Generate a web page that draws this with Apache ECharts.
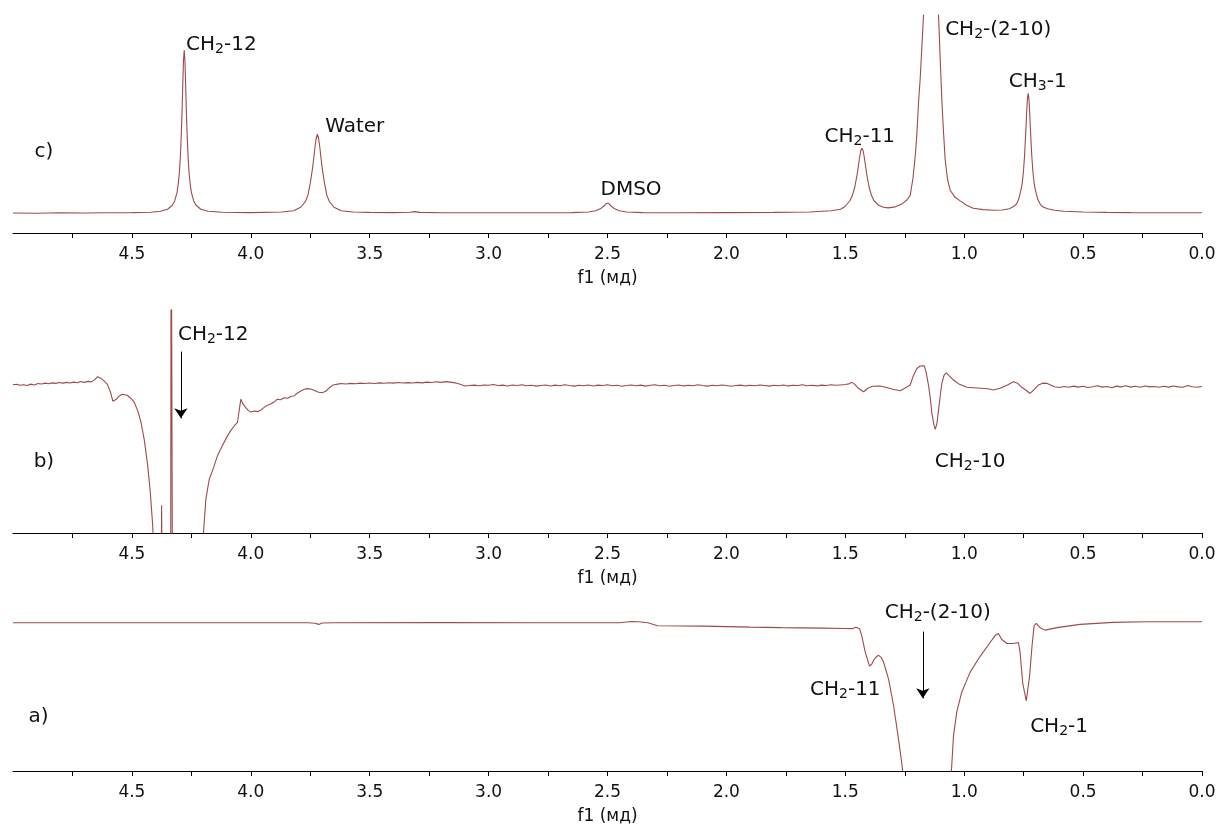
<!DOCTYPE html>
<html>
<head>
<meta charset="utf-8">
<script src="https://cdn.jsdelivr.net/npm/echarts@6.0.0/dist/echarts.min.js"></script>
<style>
html,body{margin:0;padding:0;background:#fff;}
#chart{width:1216px;height:827px;}
</style>
</head>
<body>
<div id="chart"></div>
<script>
// ---- tick values (ppm) ----
const majorTicks = [0, 0.5, 1.0, 1.5, 2.0, 2.5, 3.0, 3.5, 4.0, 4.5];
const allTicks = [0, 0.25, 0.5, 0.75, 1.0, 1.25, 1.5, 1.75, 2.0, 2.25, 2.5, 2.75, 3.0, 3.25, 3.5, 3.75, 4.0, 4.25, 4.5, 4.75];
const axisName = "f1 (мд)";

// ---- spectrum c) : [ppm, intensity] ----
const spectrumC = [
[5.000,0.001],[4.900,0.000],[4.800,0.002],[4.700,0.001],[4.600,0.002],[4.500,0.003],[4.420,0.005],[4.380,0.010],[4.350,0.020],[4.330,0.040],
[4.320,0.062],[4.310,0.105],[4.305,0.148],[4.300,0.210],[4.296,0.290],[4.292,0.405],[4.289,0.520],[4.286,0.650],[4.283,0.770],[4.280,0.822],
[4.277,0.770],[4.274,0.650],[4.271,0.520],[4.268,0.405],[4.264,0.290],[4.260,0.210],[4.255,0.148],[4.250,0.105],[4.240,0.062],[4.230,0.040],
[4.210,0.020],[4.180,0.010],[4.120,0.005],[4.000,0.003],[3.870,0.006],[3.820,0.012],[3.790,0.030],[3.770,0.060],[3.760,0.090],[3.750,0.150],
[3.740,0.230],[3.735,0.280],[3.730,0.335],[3.725,0.378],[3.720,0.399],[3.715,0.378],[3.710,0.335],[3.705,0.280],[3.700,0.230],[3.690,0.150],
[3.680,0.090],[3.670,0.060],[3.650,0.030],[3.620,0.012],[3.570,0.006],[3.500,0.004],[3.400,0.003],[3.330,0.005],[3.310,0.008],[3.290,0.004],
[3.200,0.002],[3.000,0.002],[2.800,0.002],[2.650,0.003],[2.580,0.006],[2.550,0.012],[2.530,0.022],[2.515,0.036],[2.505,0.050],[2.500,0.055],
[2.495,0.050],[2.485,0.036],[2.470,0.022],[2.450,0.012],[2.420,0.006],[2.350,0.003],[2.200,0.002],[2.000,0.003],[1.800,0.004],[1.650,0.006],
[1.560,0.012],[1.520,0.020],[1.500,0.035],[1.480,0.064],[1.470,0.090],[1.460,0.132],[1.450,0.197],[1.445,0.238],[1.440,0.281],[1.435,0.315],
[1.430,0.328],[1.425,0.315],[1.420,0.281],[1.415,0.238],[1.410,0.197],[1.400,0.132],[1.390,0.090],[1.380,0.064],[1.360,0.040],[1.340,0.030],
[1.320,0.027],[1.290,0.032],[1.260,0.048],[1.240,0.068],[1.227,0.090],[1.215,0.180],[1.205,0.300],[1.199,0.400],[1.192,0.560],[1.185,0.680],
[1.178,0.840],[1.171,1.000],[1.160,1.300],[1.150,1.600],[1.140,1.800],[1.130,1.620],[1.120,1.320],[1.108,1.000],[1.101,0.780],[1.094,0.570],
[1.087,0.410],[1.080,0.270],[1.070,0.170],[1.059,0.116],[1.040,0.082],[1.017,0.062],[0.990,0.040],[0.962,0.025],[0.920,0.018],[0.880,0.015],
[0.840,0.016],[0.810,0.022],[0.790,0.035],[0.780,0.047],[0.771,0.070],[0.761,0.119],[0.756,0.152],[0.751,0.208],[0.746,0.294],[0.741,0.410],
[0.737,0.517],[0.734,0.580],[0.731,0.605],[0.728,0.580],[0.725,0.517],[0.721,0.410],[0.716,0.294],[0.711,0.208],[0.706,0.152],[0.701,0.119],
[0.691,0.070],[0.681,0.047],[0.670,0.032],[0.650,0.022],[0.620,0.015],[0.580,0.010],[0.500,0.006],[0.400,0.004],[0.300,0.003],[0.150,0.002],
[0.000,0.002]
];

// ---- spectrum b) : [ppm, intensity] ----
const spectrumB = [
[5.000,-0.005],[4.985,0.000],[4.970,-0.010],[4.955,-0.004],[4.940,-0.012],[4.925,0.002],[4.910,-0.006],[4.895,0.008],[4.880,0.004],[4.865,0.012],
[4.850,0.006],[4.835,0.015],[4.820,0.010],[4.805,0.018],[4.790,0.012],[4.775,0.020],[4.760,0.014],[4.745,0.022],[4.730,0.016],[4.715,0.028],
[4.700,0.020],[4.685,0.030],[4.670,0.025],[4.655,0.050],[4.644,0.077],[4.630,0.060],[4.615,0.030],[4.603,0.000],[4.590,-0.080],[4.580,-0.170],
[4.574,-0.190],[4.565,-0.150],[4.553,-0.117],[4.540,-0.100],[4.532,-0.094],[4.520,-0.110],[4.505,-0.140],[4.490,-0.180],[4.475,-0.270],[4.462,-0.380],
[4.448,-0.560],[4.434,-0.810],[4.423,-1.080],[4.413,-1.410],[4.405,-1.800],[4.395,-2.500],[4.378,-2.500],[4.375,-1.220],[4.372,-2.500],[4.337,-2.500],
[4.335,2.500],[4.331,2.500],[4.329,-2.500],[4.210,-2.500],[4.199,-1.500],[4.189,-1.160],[4.175,-0.960],[4.158,-0.850],[4.140,-0.720],[4.120,-0.620],[4.098,-0.520],
[4.085,-0.470],[4.070,-0.420],[4.056,-0.385],[4.048,-0.250],[4.042,-0.150],[4.032,-0.200],[4.021,-0.235],[4.010,-0.265],[4.000,-0.280],[3.985,-0.270],
[3.970,-0.275],[3.958,-0.260],[3.945,-0.235],[3.930,-0.210],[3.915,-0.195],[3.900,-0.175],[3.888,-0.150],[3.875,-0.155],[3.860,-0.135],[3.845,-0.140],
[3.830,-0.120],[3.818,-0.117],[3.805,-0.090],[3.790,-0.067],[3.775,-0.050],[3.762,-0.043],[3.745,-0.050],[3.730,-0.065],[3.715,-0.080],[3.700,-0.085],
[3.685,-0.070],[3.670,-0.035],[3.657,-0.010],[3.640,0.000],[3.620,0.008],[3.600,0.004],[3.580,0.010],[3.560,0.006],[3.540,0.012],[3.520,0.008],
[3.500,0.014],[3.480,0.009],[3.460,0.015],[3.440,0.011],[3.420,0.016],[3.400,0.012],[3.380,0.018],[3.360,0.013],[3.340,0.017],[3.320,0.014],
[3.300,0.020],[3.280,0.015],[3.260,0.022],[3.240,0.018],[3.220,0.026],[3.200,0.020],[3.180,0.027],[3.160,0.022],[3.140,0.015],[3.120,0.000],
[3.100,-0.017],[3.080,-0.012],[3.060,-0.008],[3.040,-0.014],[3.020,-0.006],[3.000,-0.010],[2.980,-0.002],[2.960,-0.012],[2.940,-0.008],[2.920,-0.016],
[2.900,-0.006],[2.880,-0.012],[2.860,-0.004],[2.840,-0.014],[2.820,-0.010],[2.800,-0.018],[2.780,-0.012],[2.760,-0.006],[2.740,-0.016],[2.720,-0.008],
[2.700,-0.014],[2.680,-0.004],[2.660,-0.012],[2.640,-0.018],[2.620,-0.010],[2.600,-0.014],[2.580,-0.006],[2.560,-0.016],[2.540,-0.008],[2.520,-0.012],
[2.500,-0.004],[2.480,-0.014],[2.460,-0.010],[2.440,-0.020],[2.420,-0.012],[2.400,-0.006],[2.380,-0.014],[2.360,-0.008],[2.340,-0.018],[2.320,-0.010],
[2.300,-0.004],[2.280,-0.014],[2.260,-0.010],[2.240,-0.020],[2.220,-0.012],[2.200,-0.006],[2.180,-0.016],[2.160,-0.010],[2.140,-0.014],[2.120,-0.004],
[2.100,-0.012],[2.080,-0.018],[2.060,-0.010],[2.040,-0.014],[2.020,-0.006],[2.000,-0.012],[1.980,-0.020],[1.960,-0.012],[1.940,-0.008],[1.920,-0.016],
[1.900,-0.010],[1.880,-0.014],[1.860,-0.006],[1.840,-0.012],[1.820,-0.018],[1.800,-0.010],[1.780,-0.014],[1.760,-0.006],[1.740,-0.016],[1.720,-0.010],
[1.700,-0.012],[1.680,-0.004],[1.660,-0.014],[1.640,-0.010],[1.620,-0.016],[1.600,-0.008],[1.580,-0.012],[1.560,-0.004],[1.540,-0.010],[1.520,-0.006],
[1.500,-0.002],[1.485,0.005],[1.472,0.020],[1.460,0.000],[1.445,-0.040],[1.423,-0.075],[1.405,-0.040],[1.385,-0.020],[1.353,-0.017],[1.330,-0.030],
[1.300,-0.050],[1.269,-0.065],[1.250,-0.040],[1.227,-0.007],[1.215,0.080],[1.199,0.160],[1.185,0.185],[1.168,0.188],[1.160,0.120],[1.150,-0.010],
[1.142,-0.150],[1.136,-0.290],[1.128,-0.400],[1.122,-0.455],[1.115,-0.400],[1.108,-0.260],[1.100,-0.100],[1.094,0.010],[1.085,0.090],[1.076,0.117],
[1.065,0.090],[1.045,0.043],[1.020,0.000],[0.989,-0.030],[0.960,-0.035],[0.930,-0.040],[0.900,-0.045],[0.877,-0.058],[0.850,-0.040],[0.820,-0.010],
[0.793,0.026],[0.775,0.010],[0.758,-0.030],[0.740,-0.060],[0.723,-0.092],[0.705,-0.050],[0.688,-0.007],[0.670,0.012],[0.653,0.010],[0.635,-0.010],
[0.620,-0.025],[0.600,-0.032],[0.580,-0.022],[0.560,-0.030],[0.540,-0.018],[0.520,-0.028],[0.500,-0.020],[0.480,-0.032],[0.460,-0.024],[0.440,-0.015],
[0.420,-0.028],[0.400,-0.022],[0.380,-0.034],[0.360,-0.018],[0.340,-0.026],[0.320,-0.014],[0.300,-0.028],[0.280,-0.020],[0.260,-0.030],[0.240,-0.016],
[0.220,-0.026],[0.200,-0.022],[0.180,-0.030],[0.160,-0.020],[0.140,-0.028],[0.120,-0.016],[0.100,-0.026],[0.080,-0.030],[0.060,-0.012],[0.040,-0.024],
[0.020,-0.030],[0.000,-0.022]
];

// ---- spectrum a) : [ppm, intensity] ----
const spectrumA = [
[5.000,0.000],[4.500,0.000],[4.000,0.000],[3.760,0.000],[3.730,-0.005],[3.714,-0.017],[3.700,-0.003],[3.650,0.000],[3.200,0.002],[2.800,0.000],
[2.450,0.000],[2.400,0.012],[2.370,0.010],[2.330,0.000],[2.290,-0.030],[2.100,-0.035],[1.900,-0.045],[1.770,-0.050],[1.600,-0.055],[1.500,-0.058],
[1.472,-0.060],[1.455,-0.045],[1.449,-0.027],[1.440,-0.060],[1.431,-0.130],[1.416,-0.300],[1.398,-0.440],[1.389,-0.420],[1.381,-0.380],[1.370,-0.345],
[1.360,-0.330],[1.349,-0.350],[1.339,-0.400],[1.318,-0.570],[1.297,-0.840],[1.276,-1.180],[1.262,-1.430],[1.250,-1.700],[1.200,-2.500],[1.100,-2.500],
[1.060,-1.700],[1.052,-1.430],[1.045,-1.140],[1.031,-0.900],[1.010,-0.700],[0.975,-0.500],[0.933,-0.340],[0.891,-0.200],[0.870,-0.130],[0.856,-0.110],
[0.842,-0.170],[0.820,-0.210],[0.793,-0.210],[0.772,-0.200],[0.765,-0.300],[0.754,-0.610],[0.739,-0.790],[0.725,-0.540],[0.715,-0.240],[0.706,-0.030],
[0.697,-0.007],[0.681,-0.050],[0.660,-0.075],[0.610,-0.050],[0.513,-0.017],[0.374,0.003],[0.232,0.010],[0.000,0.010]
];

// ---- annotations: [prefix, subscript, suffix, ppm, intensity] ----
const labelsC = [["CH","2","-12",4.124,0.848],["Water","","",3.563,0.434],["DMSO","","",2.401,0.116],["CH","2","-11",1.439,0.383],["CH","2","-(2-10)",0.857,0.923],["CH","3","-1",0.691,0.661],["c)","","",4.870,0.308]];
const labelsB = [["CH","2","-12",4.158,0.497],["b)","","",4.870,-0.784],["CH","2","-10",0.975,-0.784]];
const labelsA = [["a)","","",4.893,-0.953],["CH","2","-(2-10)",1.111,0.098],["CH","2","-11",1.500,-0.680],["CH","2","-1",0.601,-1.055]];
// arrows: [ppm, from, to]
const arrowB = [4.294, 0.33, -0.343];
const arrowA = [1.174, -0.09, -0.765];

const FONT = "DejaVu Sans";
const LINE = "#9e4a4a";

function xAxisFor(i) {
  return {
    type: 'value', gridIndex: i, min: 0, max: 5, inverse: true,
    axisLine: {show: true, onZero: false, lineStyle: {color: '#000', width: 1}},
    axisTick: {show: true, length: 5, lineStyle: {color: '#000'}, customValues: allTicks},
    axisLabel: {show: true, margin: 13, fontSize: 17, fontFamily: FONT, color: '#111',
      customValues: majorTicks, formatter: v => v.toFixed(1)},
    splitLine: {show: false},
    name: axisName, nameLocation: 'middle', nameGap: 37,
    nameTextStyle: {fontSize: 17, fontFamily: FONT, color: '#111'}
  };
}
function yAxisFor(i, min, max) {
  return {type: 'value', gridIndex: i, min: min, max: max, show: false,
    axisLine: {show: false}, axisTick: {show: false}, axisLabel: {show: false}, splitLine: {show: false}};
}
function labelText(l) {
  let s = '{n|' + l[0] + '}';
  if (l[1]) s += '{s|' + l[1] + '}';
  if (l[2]) s += '{n|' + l[2] + '}';
  return s;
}
function marks(list) {
  return {
    symbol: 'circle', symbolSize: 0, silent: true, animation: false,
    label: {show: true, position: 'inside', formatter: p => p.data.txt,
      rich: {
        n: {fontSize: 20, fontFamily: FONT, color: '#111'},
        s: {fontSize: 14, fontFamily: FONT, color: '#111', padding: [9, 0, 0, 0]}
      }},
    data: list.map(l => ({name: l[0], txt: labelText(l), coord: [l[3], l[4]], value: 0}))
  };
}
function arrow(a) {
  return {
    silent: true, animation: false, symbol: ['none', 'arrow'], symbolSize: 10,
    lineStyle: {color: '#000', width: 1, type: 'solid'}, label: {show: false},
    data: [[{coord: [a[0], a[1]]}, {coord: [a[0], a[2]]}]]
  };
}
function lineSeries(i, data, extra) {
  return Object.assign({
    type: 'line', xAxisIndex: i, yAxisIndex: i, data: data,
    showSymbol: false, symbol: 'none', clip: true, animation: false,
    lineStyle: {color: LINE, width: 1.1}, itemStyle: {color: LINE}
  }, extra || {});
}

const chart = echarts.init(document.getElementById('chart'), null, {renderer: 'canvas'});
chart.setOption({
  backgroundColor: '#fff',
  animation: false,
  grid: [
    {left: 13, right: 14, top: 15, height: 218, outerBoundsMode: 'none'},
    {left: 13, right: 14, top: 310, height: 223, outerBoundsMode: 'none'},
    {left: 13, right: 14, top: 598, height: 173, outerBoundsMode: 'none'}
  ],
  xAxis: [xAxisFor(0), xAxisFor(1), xAxisFor(2)],
  yAxis: [yAxisFor(0, -0.1, 1.0), yAxisFor(1, -1.5, 0.75), yAxisFor(2, -1.5, 0.25)],
  series: [
    lineSeries(0, spectrumC, {markPoint: marks(labelsC)}),
    lineSeries(1, spectrumB, {markPoint: marks(labelsB), markLine: arrow(arrowB)}),
    lineSeries(2, spectrumA, {markPoint: marks(labelsA), markLine: arrow(arrowA)})
  ]
});
</script>
</body>
</html>
